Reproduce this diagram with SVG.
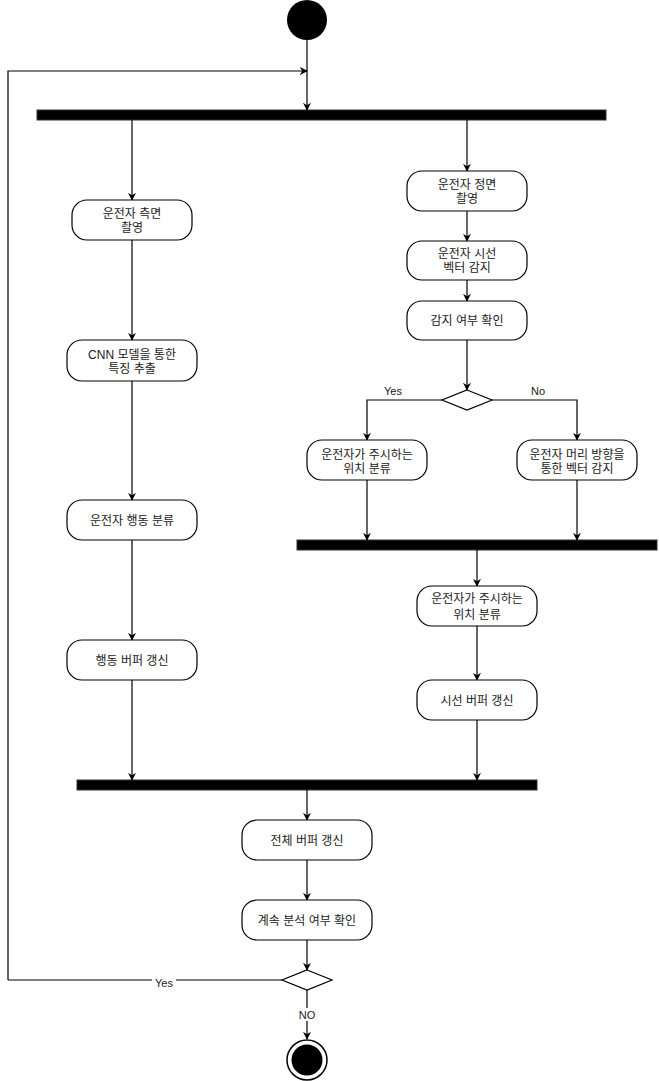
<svg xmlns="http://www.w3.org/2000/svg" width="659" height="1081" viewBox="0 0 659 1081">
<defs>
<marker id="arr" viewBox="0 0 10 10" refX="9" refY="5" markerWidth="8" markerHeight="8" markerUnits="userSpaceOnUse" orient="auto">
<path d="M0,0 L10,5 L0,10 L3,5 z" fill="#000"/>
</marker>
<style>
.node rect{fill:#fff;stroke:#000;stroke-width:1.2}
.bar{fill:#000;stroke:#333;stroke-width:1}
text{font-family:"Liberation Sans","Noto Sans CJK KR",sans-serif;font-size:12px;fill:#1a1a1a;text-anchor:middle}
.lbl{font-size:11px}
.conn path{fill:none;stroke:#000;stroke-width:1.2}
.arrow{marker-end:url(#arr)}
.dia{fill:#fff;stroke:#000;stroke-width:1.2}
</style>
</defs>
<rect width="659" height="1081" fill="#fff"/>

<g id="start"><ellipse cx="307" cy="20" rx="20" ry="20" fill="#000"/></g>

<g id="fork1"><rect class="bar" x="37" y="110" width="569" height="10"/></g>
<g id="fork2"><rect class="bar" x="297" y="540" width="360" height="10"/></g>
<g id="join"><rect class="bar" x="77" y="780" width="460" height="10"/></g>

<g class="conn" id="connectors">
<path class="arrow" d="M307,40 L307,110"/>
<path class="arrow" d="M8,980 L8,71 L307,71"/>
<path class="arrow" d="M132,120 L132,200"/>
<path class="arrow" d="M132,240 L132,340"/>
<path class="arrow" d="M132,381 L132,500"/>
<path class="arrow" d="M132,540 L132,640"/>
<path class="arrow" d="M132,680 L132,780"/>
<path class="arrow" d="M467,120 L467,171"/>
<path class="arrow" d="M467,211 L467,241"/>
<path class="arrow" d="M467,280 L467,301"/>
<path class="arrow" d="M467,340 L467,390"/>
<path class="arrow" d="M442,400 L367,400 L367,440"/>
<path class="arrow" d="M492,400 L577,400 L577,440"/>
<path class="arrow" d="M367,480 L367,540"/>
<path class="arrow" d="M577,480 L577,540"/>
<path class="arrow" d="M477,550 L477,586"/>
<path class="arrow" d="M477,626 L477,680"/>
<path class="arrow" d="M477,720 L477,780"/>
<path class="arrow" d="M307,790 L307,820"/>
<path class="arrow" d="M307,860 L307,900"/>
<path class="arrow" d="M307,940 L307,970"/>
<path d="M282,980 L8,980"/>
<path class="arrow" d="M307,990 L307,1039"/>
<rect x="152" y="976" width="24" height="12" fill="#fff"/>
<text class="lbl" x="164" y="987">Yes</text>
<rect x="298" y="1008" width="18" height="13" fill="#fff"/>
<text class="lbl" x="307" y="1019">NO</text>
<text class="lbl" x="393" y="395">Yes</text>
<text class="lbl" x="538" y="395">No</text>
</g>

<g id="n1" class="node"><rect x="72" y="200" width="120" height="40" rx="15"/><text x="132" y="217.5">운전자 측면</text><text x="132" y="231.5">촬영</text></g>
<g id="n2" class="node"><rect x="67" y="340" width="130" height="41" rx="15"/><text x="132" y="358.5">CNN 모델을 통한</text><text x="132" y="372.5">특징 추출</text></g>
<g id="n3" class="node"><rect x="67" y="500" width="130" height="40" rx="15"/><text x="132" y="524.5">운전자 행동 분류</text></g>
<g id="n4" class="node"><rect x="67" y="640" width="130" height="40" rx="15"/><text x="132" y="664.5">행동 버퍼 갱신</text></g>

<g id="n5" class="node"><rect x="407" y="171" width="120" height="40" rx="15"/><text x="467" y="188.5">운전자 정면</text><text x="467" y="202.5">촬영</text></g>
<g id="n6" class="node"><rect x="407" y="241" width="120" height="39" rx="15"/><text x="467" y="257.5">운전자 시선</text><text x="467" y="271.5">벡터 감지</text></g>
<g id="n7" class="node"><rect x="407" y="301" width="120" height="39" rx="15"/><text x="467" y="325">감지 여부 확인</text></g>
<g id="d1"><path class="dia" d="M467,390 L492,400 L467,410 L442,400 Z"/></g>
<g id="n8" class="node"><rect x="307" y="440" width="120" height="40" rx="15"/><text x="367" y="458.5">운전자가 주시하는</text><text x="367" y="472.5">위치 분류</text></g>
<g id="n9" class="node"><rect x="517" y="440" width="120" height="40" rx="15"/><text x="577" y="458.5">운전자 머리 방향을</text><text x="577" y="472.5">통한 벡터 감지</text></g>
<g id="n10" class="node"><rect x="417" y="586" width="120" height="40" rx="15"/><text x="477" y="603">운전자가 주시하는</text><text x="477" y="618.5">위치 분류</text></g>
<g id="n11" class="node"><rect x="417" y="680" width="120" height="40" rx="15"/><text x="477" y="704.5">시선 버퍼 갱신</text></g>

<g id="n12" class="node"><rect x="242" y="820" width="130" height="40" rx="15"/><text x="307" y="844.5">전체 버퍼 갱신</text></g>
<g id="n13" class="node"><rect x="242" y="900" width="130" height="40" rx="15"/><text x="307" y="924.5">계속 분석 여부 확인</text></g>
<g id="d2"><path class="dia" d="M307,970 L332,980 L307,990 L282,980 Z"/></g>

<g id="end"><circle cx="307" cy="1060" r="20" fill="#fff" stroke="#000" stroke-width="1.5"/><circle cx="307" cy="1060" r="15.5" fill="#000"/></g>
</svg>
